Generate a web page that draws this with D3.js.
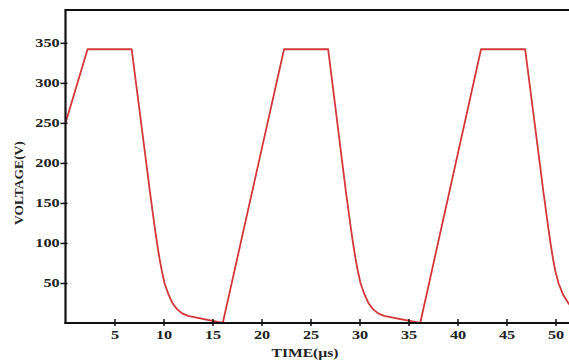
<!DOCTYPE html>
<html>
<head>
<meta charset="utf-8">
<script src="https://cdn.jsdelivr.net/npm/d3@7"></script>
<style>
  body { margin: 0; background: #fff; }
  svg { display: block; }
  .tick text { font-family: "Liberation Serif", "Times New Roman", serif; font-weight: bold; font-size: 12.5px; fill: #222; }
  .title { font-family: "Liberation Serif", "Times New Roman", serif; font-weight: bold; fill: #222; }
</style>
</head>
<body>
<div id="chart"></div>
<script>
// values: time in µs, voltage in V
var time = [
    0, 2.25, 6.75, 8.45, 8.6, 8.75, 8.9, 9.1, 9.35, 9.6, 9.85, 10.1, 10.5, 10.9, 11.4, 11.9, 12.5, 16.05,
    22.3, 26.8, 28.45, 28.6, 28.75, 28.9, 29.1, 29.35, 29.6, 29.85, 30.1, 30.5, 30.9, 31.4, 31.9, 32.5, 36.2,
    42.4, 46.9, 48.6, 48.75, 48.9, 49.05, 49.25, 49.5, 49.75, 50.0, 50.3, 50.75, 51.3, 51.8, 52.3
];
var voltage = [
    250, 342, 342, 180, 165, 152, 138, 120, 99, 80, 64, 50, 36, 25, 17, 12, 9, 0,
    342, 342, 180, 165, 152, 138, 120, 99, 80, 64, 50, 36, 25, 17, 12, 9, 0,
    342, 342, 180, 165, 152, 138, 120, 99, 80, 64, 50, 36, 25, 17
];
var xTicks = [5, 10, 15, 20, 25, 30, 35, 40, 45, 50];
var yTicks = [50, 100, 150, 200, 250, 300, 350];

(function () {
    var width = 569, height = 362;
    var mLeft = 65.5, mTop = 10, mBottom = 323;

    var data = time.map((t, i) => ({t: t, v: voltage[i]}));

    var x = d3.scaleLinear().domain([0, 52]).range([mLeft, mLeft + 52 * 9.8]);
    var y = d3.scaleLinear().domain([0, 391]).range([mBottom, mTop]);

    var svg = d3.select("#chart").append("svg")
        .attr("width", width)
        .attr("height", height);

    svg.append("clipPath").attr("id", "clip")
        .append("rect")
        .attr("x", mLeft).attr("y", mTop)
        .attr("width", width - mLeft).attr("height", mBottom - mTop);

    svg.append("path")
        .datum(data)
        .attr("clip-path", "url(#clip)")
        .attr("fill", "none")
        .attr("stroke", "#d4383a")
        .attr("stroke-width", 1.8)
        .attr("stroke-linejoin", "round")
        .attr("d", d3.line().x(d => x(d.t)).y(d => y(d.v)));

    // top frame line
    svg.append("line")
        .attr("x1", mLeft).attr("x2", width + 5)
        .attr("y1", mTop).attr("y2", mTop)
        .attr("stroke", "#111").attr("stroke-width", 2.2);

    var gx = svg.append("g")
        .attr("transform", `translate(0,${mBottom})`)
        .call(d3.axisBottom(x).tickValues(xTicks).tickSize(0).tickPadding(7).tickFormat(d3.format("d")));
    gx.select(".domain").attr("d", `M${mLeft - 1},0H${width + 5}`).attr("stroke", "#111").attr("stroke-width", 2.2);
    gx.selectAll(".tick line").attr("y1", -4).attr("y2", 3).attr("stroke", "#111").attr("stroke-width", 1.5);
    gx.selectAll(".tick text").attr("transform", "scale(1.3,1)");

    var gy = svg.append("g")
        .attr("transform", `translate(${mLeft},0)`)
        .call(d3.axisLeft(y).tickValues(yTicks).tickSize(0).tickPadding(0).tickFormat(d3.format("d")));
    gy.select(".domain").attr("d", `M0,${mTop - 1}V${mBottom + 1}`).attr("stroke", "#111").attr("stroke-width", 2.2);
    gy.selectAll(".tick line").attr("x1", -5).attr("x2", 2).attr("stroke", "#111").attr("stroke-width", 1.5);
    gy.selectAll(".tick text").attr("x", -4.5).attr("transform", "scale(1.3,1)");

    svg.append("text")
        .attr("class", "title")
        .attr("x", 305 / 1.25).attr("y", 357)
        .attr("transform", "scale(1.25,1)")
        .attr("text-anchor", "middle")
        .style("font-size", "12.5px")
        .text("TIME(µs)");

    svg.append("text")
        .attr("class", "title")
        .attr("transform", "translate(23,183) rotate(-90)")
        .attr("text-anchor", "middle")
        .style("font-size", "13.5px")
        .text("VOLTAGE(V)");
})();
</script>
</body>
</html>
